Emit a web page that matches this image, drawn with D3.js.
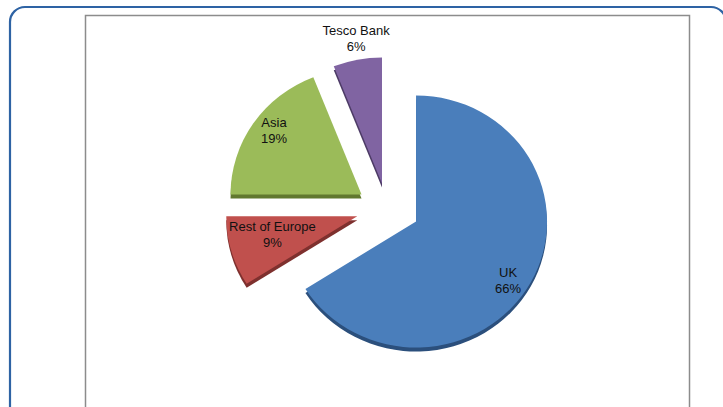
<!DOCTYPE html>
<html>
<head>
<meta charset="utf-8">
<script src="https://cdn.jsdelivr.net/npm/d3@7"></script>
<style>
  body { margin: 0; background: #fff; }
  text { font-family: "Liberation Sans", Arial, sans-serif; font-size: 13px; fill: #111; }
</style>
</head>
<body>
<div class="chart"></div>
<script>
var svgWidth = 723;
var svgHeight = 407;

// data
var categories = ["UK", "Rest of Europe", "Asia", "Tesco Bank"];
var shares = [66, 9, 19, 6];

// look
var topColors = ["#4a7ebb", "#c0504d", "#9bbb59", "#8064a2"];
var sideColors = ["#2b4f7c", "#7e302e", "#61782f", "#4d3b66"];
// label placement: distance (fraction of radius) and angle (deg, clockwise from top) from each slice tip
var labelRadius = [0.842, 0.663, 0.841, 1.173];
var labelAngle = [123.4, 257.7, 307.4, 350.3];

var center = { x: 388, y: 209 };
var radius = 131;
var squash = 0.962;   // 3D tilt of the top face
var explode = 32;
var explodeY = 0.81;
var depth = 4;

var svg = d3.select(".chart")
  .append("svg")
  .attr("width", svgWidth)
  .attr("height", svgHeight);

// plot area box
svg.append("rect")
  .attr("x", 85.5)
  .attr("y", 15.5)
  .attr("width", 604)
  .attr("height", 420)
  .attr("fill", "none")
  .attr("stroke", "#8c8c8c")
  .attr("stroke-width", 1.5);

// outer rounded frame
svg.append("rect")
  .attr("x", 10)
  .attr("y", 7)
  .attr("width", 716)
  .attr("height", 430)
  .attr("rx", 15)
  .attr("fill", "none")
  .attr("stroke", "#2e63a4")
  .attr("stroke-width", 2.2);

var pie = d3.pie().sort(null).value(d => d.value);
var arcs = pie(categories.map((c, i) => ({ name: c, value: shares[i], i: i })));

var arc = d3.arc().innerRadius(0).outerRadius(radius);

function apex(d) {
  var mid = (d.startAngle + d.endAngle) / 2;
  return {
    x: center.x + explode * Math.sin(mid),
    y: center.y - explode * Math.cos(mid) * explodeY
  };
}

var slices = svg.selectAll("g.slice")
  .data(arcs)
  .enter()
  .append("g")
  .attr("class", "slice");

// side of the 3D slice
slices.append("path")
  .attr("transform", d => {
    var p = apex(d);
    return `translate(${p.x}, ${p.y + depth}) scale(1, ${squash})`;
  })
  .attr("d", arc)
  .attr("fill", d => sideColors[d.data.i]);

// top face
slices.append("path")
  .attr("transform", d => {
    var p = apex(d);
    return `translate(${p.x}, ${p.y}) scale(1, ${squash})`;
  })
  .attr("d", arc)
  .attr("fill", d => topColors[d.data.i]);

// labels
var labels = svg.selectAll("text.lbl")
  .data(arcs)
  .enter()
  .append("text")
  .attr("class", "lbl")
  .attr("text-anchor", "middle")
  .attr("transform", d => {
    var p = apex(d);
    var a = labelAngle[d.data.i] * Math.PI / 180;
    var r = radius * labelRadius[d.data.i];
    return `translate(${p.x + r * Math.sin(a)}, ${p.y - r * Math.cos(a) * squash})`;
  });

labels.append("tspan")
  .attr("x", 0)
  .attr("y", -3)
  .text(d => d.data.name);

labels.append("tspan")
  .attr("x", 0)
  .attr("y", 13)
  .text(d => d.data.value + "%");
</script>
</body>
</html>
